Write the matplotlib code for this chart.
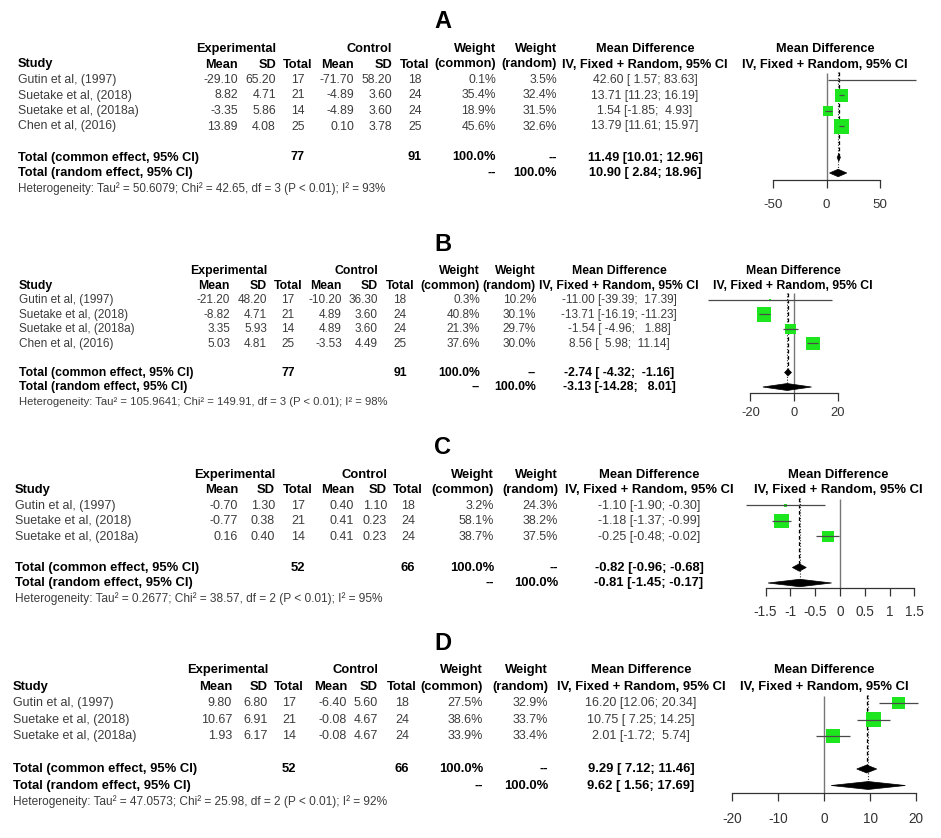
import matplotlib
matplotlib.use("Agg")
import matplotlib.pyplot as plt
from matplotlib.patches import Polygon
import numpy as np

plt.rcParams["font.family"] = ["Liberation Sans", "DejaVu Sans"]
plt.rcParams["axes.unicode_minus"] = False

W, H = 941, 838
TEXT_GRAY = "#3c3c3c"
SQUARE_GREEN = "#1ee61e"
LINE_GRAY = "#4a4a4a"

# ---------------- data ----------------
studies_4 = ["Gutin et al, (1997)", "Suetake et al, (2018)",
             "Suetake et al, (2018a)", "Chen et al, (2016)"]
studies_3 = studies_4[:3]

# A
exp_mean_A = [-29.10, 8.82, -3.35, 13.89]
exp_sd_A = [65.20, 4.71, 5.86, 4.08]
exp_n_A = [17, 21, 14, 25]
ctl_mean_A = [-71.70, -4.89, -4.89, 0.10]
ctl_sd_A = [58.20, 3.60, 3.60, 3.78]
ctl_n_A = [18, 24, 24, 25]
w_common_A = [0.1, 35.4, 18.9, 45.6]
w_random_A = [3.5, 32.4, 31.5, 32.6]
md_A = [42.60, 13.71, 1.54, 13.79]
lo_A = [1.57, 11.23, -1.85, 11.61]
hi_A = [83.63, 16.19, 4.93, 15.97]
common_A = [11.49, 10.01, 12.96]
random_A = [10.90, 2.84, 18.96]
het_A = ["50.6079", "42.65", "3", "93"]
ticks_A = [-50, 0, 50]

# B
exp_mean_B = [-21.20, -8.82, 3.35, 5.03]
exp_sd_B = [48.20, 4.71, 5.93, 4.81]
exp_n_B = [17, 21, 14, 25]
ctl_mean_B = [-10.20, 4.89, 4.89, -3.53]
ctl_sd_B = [36.30, 3.60, 3.60, 4.49]
ctl_n_B = [18, 24, 24, 25]
w_common_B = [0.3, 40.8, 21.3, 37.6]
w_random_B = [10.2, 30.1, 29.7, 30.0]
md_B = [-11.00, -13.71, -1.54, 8.56]
lo_B = [-39.39, -16.19, -4.96, 5.98]
hi_B = [17.39, -11.23, 1.88, 11.14]
common_B = [-2.74, -4.32, -1.16]
random_B = [-3.13, -14.28, 8.01]
het_B = ["105.9641", "149.91", "3", "98"]
ticks_B = [-20, 0, 20]

# C
exp_mean_C = [-0.70, -0.77, 0.16]
exp_sd_C = [1.30, 0.38, 0.40]
exp_n_C = [17, 21, 14]
ctl_mean_C = [0.40, 0.41, 0.41]
ctl_sd_C = [1.10, 0.23, 0.23]
ctl_n_C = [18, 24, 24]
w_common_C = [3.2, 58.1, 38.7]
w_random_C = [24.3, 38.2, 37.5]
md_C = [-1.10, -1.18, -0.25]
lo_C = [-1.90, -1.37, -0.48]
hi_C = [-0.30, -0.99, -0.02]
common_C = [-0.82, -0.96, -0.68]
random_C = [-0.81, -1.45, -0.17]
het_C = ["0.2677", "38.57", "2", "95"]
ticks_C = [-1.5, -1, -0.5, 0, 0.5, 1, 1.5]

# D
exp_mean_D = [9.80, 10.67, 1.93]
exp_sd_D = [6.80, 6.91, 6.17]
exp_n_D = [17, 21, 14]
ctl_mean_D = [-6.40, -0.08, -0.08]
ctl_sd_D = [5.60, 4.67, 4.67]
ctl_n_D = [18, 24, 24]
w_common_D = [27.5, 38.6, 33.9]
w_random_D = [32.9, 33.7, 33.4]
md_D = [16.20, 10.75, 2.01]
lo_D = [12.06, 7.25, -1.72]
hi_D = [20.34, 14.25, 5.74]
common_D = [9.29, 7.12, 11.46]
random_D = [9.62, 1.56, 17.69]
het_D = ["47.0573", "25.98", "2", "92"]
ticks_D = [-20, -10, 0, 10, 20]

# ---------------- layout (figure pixels) ----------------
# cols: study, exp mean, exp sd, exp n, ctl mean, ctl sd, ctl n,
#       weight common, weight random, md text, forest header
PANELS = [
    dict(label="A", label_y=22, y0=80, dy=15.5, fs=8.8,
         cols=(18, 238, 276, 298, 354, 392, 415, 496, 557, 645, 825),
         zero=826.5, ppu=1.07, axis_y=180, tick_y=205,
         studies=studies_4, exp_mean=exp_mean_A, exp_sd=exp_sd_A, exp_n=exp_n_A,
         ctl_mean=ctl_mean_A, ctl_sd=ctl_sd_A, ctl_n=ctl_n_A,
         w_common=w_common_A, w_random=w_random_A, md=md_A, lo=lo_A, hi=hi_A,
         common=common_A, random=random_A, het=het_A, ticks=ticks_A),
    dict(label="B", label_y=244, y0=300, dy=14.5, fs=8.5,
         cols=(19, 230, 267, 288, 342, 378, 400, 480, 536, 619, 793),
         zero=794, ppu=2.18, axis_y=393, tick_y=414,
         studies=studies_4, exp_mean=exp_mean_B, exp_sd=exp_sd_B, exp_n=exp_n_B,
         ctl_mean=ctl_mean_B, ctl_sd=ctl_sd_B, ctl_n=ctl_n_B,
         w_common=w_common_B, w_random=w_random_B, md=md_B, lo=lo_B, hi=hi_B,
         common=common_B, random=random_B, het=het_B, ticks=ticks_B),
    dict(label="C", label_y=447, y0=505.5, dy=15.5, fs=9.0,
         cols=(15, 238, 275, 298, 354, 387, 408, 494, 558, 649, 838),
         zero=840, ppu=49.6, axis_y=588, tick_y=612,
         studies=studies_3, exp_mean=exp_mean_C, exp_sd=exp_sd_C, exp_n=exp_n_C,
         ctl_mean=ctl_mean_C, ctl_sd=ctl_sd_C, ctl_n=ctl_n_C,
         w_common=w_common_C, w_random=w_random_C, md=md_C, lo=lo_C, hi=hi_C,
         common=common_C, random=random_C, het=het_C, ticks=ticks_C),
    dict(label="D", label_y=643, y0=703, dy=16.5, fs=9.0,
         cols=(13, 232, 268, 289, 347, 378, 402, 483, 548, 641, 824),
         zero=824, ppu=4.6, axis_y=793, tick_y=818,
         studies=studies_3, exp_mean=exp_mean_D, exp_sd=exp_sd_D, exp_n=exp_n_D,
         ctl_mean=ctl_mean_D, ctl_sd=ctl_sd_D, ctl_n=ctl_n_D,
         w_common=w_common_D, w_random=w_random_D, md=md_D, lo=lo_D, hi=hi_D,
         common=common_D, random=random_D, het=het_D, ticks=ticks_D),
]


def ci_text(est, lo, hi, wl, wh):
    return f"{est:.2f} [{lo:{wl}.2f}; {hi:{wh}.2f}]"


def draw_table(ax, p):
    def y(r):
        return p["y0"] + r * p["dy"]

    fs = p["fs"]
    xs, xem, xesd, xen, xcm, xcsd, xcn, xwc, xwr, xmd, xfo = p["cols"]
    bold = dict(fontsize=fs * 1.04, fontweight="bold", color="black", va="center")
    norm = dict(fontsize=fs, color=TEXT_GRAY, va="center")

    ax.text(443, p["label_y"], p["label"], fontsize=17, fontweight="bold",
            ha="center", va="center")

    # header
    ax.text(xesd, y(-2), "Experimental", ha="right", **bold)
    ax.text(xcsd, y(-2), "Control", ha="right", **bold)
    ax.text(xwc, y(-2), "Weight", ha="right", **bold)
    ax.text(xwr, y(-2), "Weight", ha="right", **bold)
    ax.text(xmd, y(-2), "Mean Difference", ha="center", **bold)
    ax.text(xfo, y(-2), "Mean Difference", ha="center", **bold)
    ax.text(xs, y(-1), "Study", ha="left", **bold)
    ci_head = "IV, Fixed + Random, 95% CI"
    for x, s, ha in [(xem, "Mean", "right"), (xesd, "SD", "right"),
                     (xen, "Total", "center"), (xcm, "Mean", "right"),
                     (xcsd, "SD", "right"), (xcn, "Total", "center"),
                     (xwc, "(common)", "right"), (xwr, "(random)", "right"),
                     (xmd, ci_head, "center"), (xfo, ci_head, "center")]:
        ax.text(x, y(-1), s, ha=ha, **bold)

    all_lo = p["lo"] + [p["common"][1], p["random"][1]]
    all_hi = p["hi"] + [p["common"][2], p["random"][2]]
    wl = max(len(f"{v:.2f}") for v in all_lo)
    wh = max(len(f"{v:.2f}") for v in all_hi)

    for i, name in enumerate(p["studies"]):
        ax.text(xs, y(i), name, ha="left", **norm)
        ax.text(xem, y(i), f"{p['exp_mean'][i]:.2f}", ha="right", **norm)
        ax.text(xesd, y(i), f"{p['exp_sd'][i]:.2f}", ha="right", **norm)
        ax.text(xen, y(i), f"{p['exp_n'][i]}", ha="center", **norm)
        ax.text(xcm, y(i), f"{p['ctl_mean'][i]:.2f}", ha="right", **norm)
        ax.text(xcsd, y(i), f"{p['ctl_sd'][i]:.2f}", ha="right", **norm)
        ax.text(xcn, y(i), f"{p['ctl_n'][i]}", ha="center", **norm)
        ax.text(xwc, y(i), f"{p['w_common'][i]:.1f}%", ha="right", **norm)
        ax.text(xwr, y(i), f"{p['w_random'][i]:.1f}%", ha="right", **norm)
        ax.text(xmd, y(i), ci_text(p["md"][i], p["lo"][i], p["hi"][i], wl, wh),
                ha="center", **norm)

    k = len(p["studies"])
    rc, rr, rh = k + 1, k + 2, k + 3
    ax.text(xs, y(rc), "Total (common effect, 95% CI)", ha="left", **bold)
    ax.text(xen, y(rc), f"{sum(p['exp_n'])}", ha="center", **bold)
    ax.text(xcn, y(rc), f"{sum(p['ctl_n'])}", ha="center", **bold)
    ax.text(xwc, y(rc), "100.0%", ha="right", **bold)
    ax.text(xwr, y(rc), "--", ha="right", **bold)
    ax.text(xmd, y(rc), ci_text(*p["common"], wl, wh), ha="center", **bold)

    ax.text(xs, y(rr), "Total (random effect, 95% CI)", ha="left", **bold)
    ax.text(xwc, y(rr), "--", ha="right", **bold)
    ax.text(xwr, y(rr), "100.0%", ha="right", **bold)
    ax.text(xmd, y(rr), ci_text(*p["random"], wl, wh), ha="center", **bold)

    tau, chi, df, i2 = p["het"]
    ax.text(xs, y(rh),
            f"Heterogeneity: Tau\u00b2 = {tau}; Chi\u00b2 = {chi}, df = {df} "
            f"(P < 0.01); I\u00b2 = {i2}%",
            ha="left", fontsize=fs * 0.95, color=TEXT_GRAY, va="center")


def draw_forest(fig, p):
    left, right = 680, 941
    top = p["y0"] - 1.5 * p["dy"]
    bottom = p["tick_y"] + 14
    ax = fig.add_axes([left / W, 1 - bottom / H, (right - left) / W, (bottom - top) / H])
    ax.set_xlim((left - p["zero"]) / p["ppu"], (right - p["zero"]) / p["ppu"])
    ax.set_ylim((bottom - p["y0"]) / p["dy"], (top - p["y0"]) / p["dy"])
    ax.patch.set_visible(False)
    for s in ["top", "left", "right"]:
        ax.spines[s].set_visible(False)
    ax.set_yticks([])

    k = len(p["studies"])
    rows = np.arange(k)
    rc, rr = k + 1, k + 2
    axis_row = (p["axis_y"] - p["y0"]) / p["dy"]

    ticks = p["ticks"]
    ax.spines["bottom"].set_position(("data", axis_row))
    ax.spines["bottom"].set_bounds(ticks[0], ticks[-1])
    ax.spines["bottom"].set_color("#333333")
    ax.spines["bottom"].set_linewidth(0.9)
    ax.set_xticks(ticks)
    ax.set_xticklabels([f"{t:g}" for t in ticks])
    tick_len = 5.5
    pad = (p["tick_y"] - p["axis_y"] - tick_len / 0.72 - 6.5) * 0.72
    ax.tick_params(axis="x", direction="out", length=tick_len, width=0.9,
                   pad=pad, labelsize=p["fs"] + 0.8, color="#333333",
                   labelcolor="#333333")

    # reference lines
    ax.vlines(0, -0.45, axis_row, color="#777777", lw=1.0, zorder=1)
    ax.vlines(p["common"][0], -0.5, rc, color="black", lw=0.9,
              linestyles=(0, (3, 2)), zorder=1)
    ax.vlines(p["random"][0], -0.5, rr, color="#333333", lw=0.8,
              linestyles=(0, (1, 1.5)), zorder=1)

    # study squares and CIs
    w = np.array(p["w_common"])
    side_pt = 14.5 * np.sqrt(w / w.max()) * 0.72
    ax.scatter(p["md"], rows, marker="s", s=side_pt ** 2, color=SQUARE_GREEN,
               linewidths=0, zorder=2)
    ax.hlines(rows, p["lo"], p["hi"], color=LINE_GRAY, lw=0.9, zorder=3)

    # pooled diamonds
    hh = 0.24
    for (est, lo, hi), r in [(p["common"], rc), (p["random"], rr)]:
        ax.add_patch(Polygon([(lo, r), (est, r - hh), (hi, r), (est, r + hh)],
                             closed=True, facecolor="black", edgecolor="black",
                             lw=0.5, zorder=4))


fig = plt.figure(figsize=(W / 100, H / 100), dpi=100)
canvas = fig.add_axes([0, 0, 1, 1])
canvas.set_xlim(0, W)
canvas.set_ylim(H, 0)
canvas.axis("off")

for p in PANELS:
    draw_table(canvas, p)
    draw_forest(fig, p)

fig.savefig("out.png", dpi=100, facecolor="white")
